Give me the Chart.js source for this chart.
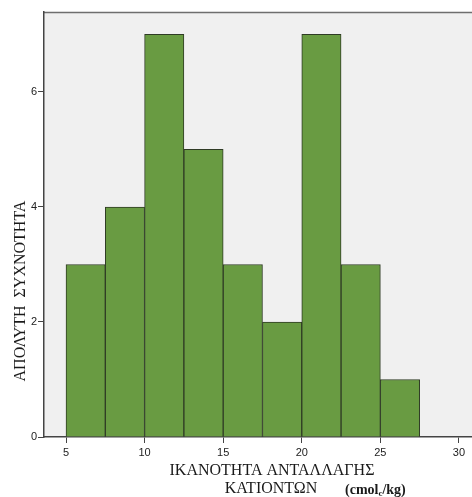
<!DOCTYPE html>
<html><head><meta charset="utf-8">
<script src="https://cdn.jsdelivr.net/npm/chart.js@4"></script>
<style>html,body{margin:0;padding:0;background:#fff;overflow:hidden}#wrap{width:472px;height:497px;position:relative}</style>
</head><body><div id="wrap"><canvas id="c"></canvas></div>
<script>
const binCenters = [6.25, 8.75, 11.25, 13.75, 16.25, 18.75, 21.25, 23.75, 26.25];
const frequencies = [3, 4, 7, 5, 3, 2, 7, 3, 1];
const xTicks = [5, 10, 15, 20, 25, 30];
const yTicks = [0, 2, 4, 6];
const yTitle = 'ΑΠΟΛΥΤΗ  ΣΥΧΝΟΤΗΤΑ';
const xTitle1 = 'ΙΚΑΝΟΤΗΤΑ ΑΝΤΑΛΛΑΓΗΣ';
const xTitle2 = 'ΚΑΤΙΟΝΤΩΝ';
const xUnit = ['(cmol', 'c', '/kg)'];

const bgPlugin = {
  id: 'bg',
  beforeDraw(chart) {
    const {ctx, chartArea: a} = chart;
    ctx.save();
    ctx.fillStyle = '#F0F0F0';
    ctx.fillRect(a.left, a.top, a.right - a.left, a.bottom - a.top);
    ctx.strokeStyle = '#6e6e6e';
    ctx.lineWidth = 1.5;
    ctx.beginPath();
    ctx.moveTo(a.left, a.top + 0.5);
    ctx.lineTo(a.right, a.top + 0.5);
    ctx.stroke();
    ctx.restore();
  },
  afterDraw(chart) {
    const {ctx} = chart;
    ctx.save();
    ctx.fillStyle = '#1a1a1a';
    ctx.font = '16px "Liberation Serif"';
    ctx.textAlign = 'center';
    ctx.textBaseline = 'alphabetic';
    ctx.fillText(xTitle1, 272, 475);
    ctx.fillText(xTitle2, 271, 493);
    ctx.font = 'bold 14px "Liberation Serif"';
    ctx.textAlign = 'left';
    let x = 345;
    ctx.fillText(xUnit[0], x, 494);
    x += ctx.measureText(xUnit[0]).width;
    ctx.font = 'bold 9px "Liberation Serif"';
    ctx.fillText(xUnit[1], x, 496);
    x += ctx.measureText(xUnit[1]).width;
    ctx.font = 'bold 14px "Liberation Serif"';
    ctx.fillText(xUnit[2], x, 494);
    ctx.translate(25, 291);
    ctx.rotate(-Math.PI / 2);
    ctx.font = '16px "Liberation Serif"';
    ctx.textAlign = 'center';
    ctx.fillText(yTitle, 0, 0);
    ctx.restore();
  }
};

new Chart(document.getElementById('c'), {
  type: 'bar',
  data: {
    datasets: [{
      data: binCenters.map((c, i) => ({x: c, y: frequencies[i]})),
      backgroundColor: '#699B42',
      borderColor: '#2f3b25',
      borderWidth: 1,
      barPercentage: 1,
      categoryPercentage: 1,
      grouped: false
    }]
  },
  options: {
    responsive: true,
    maintainAspectRatio: false,
    animation: false,
    layout: {padding: {top: 12, right: 0, left: 0, bottom: 0}},
    plugins: {legend: {display: false}, tooltip: {enabled: false}},
    scales: {
      x: {
        type: 'linear',
        offset: false,
        min: 3.6,
        max: 30.83,
        afterBuildTicks: s => { s.ticks = xTicks.map(v => ({value: v})); },
        afterFit: s => { s.height = 60; },
        grid: {offset: false, drawOnChartArea: false, drawTicks: true, tickLength: 6, color: '#444'},
        border: {display: true, color: '#444', width: 1.5},
        ticks: {color: '#222', font: {family: '"Liberation Sans"', size: 11}, padding: 3, maxRotation: 0}
      },
      y: {
        min: 0,
        max: 7.39,
        afterBuildTicks: s => { s.ticks = yTicks.map(v => ({value: v})); },
        afterFit: s => { s.width = 44; },
        grid: {drawOnChartArea: false, drawTicks: true, tickLength: 6, color: '#444'},
        border: {display: true, color: '#444', width: 1.5},
        ticks: {color: '#222', font: {family: '"Liberation Sans"', size: 11}, padding: 1}
      }
    }
  },
  plugins: [bgPlugin]
});
</script></body></html>
